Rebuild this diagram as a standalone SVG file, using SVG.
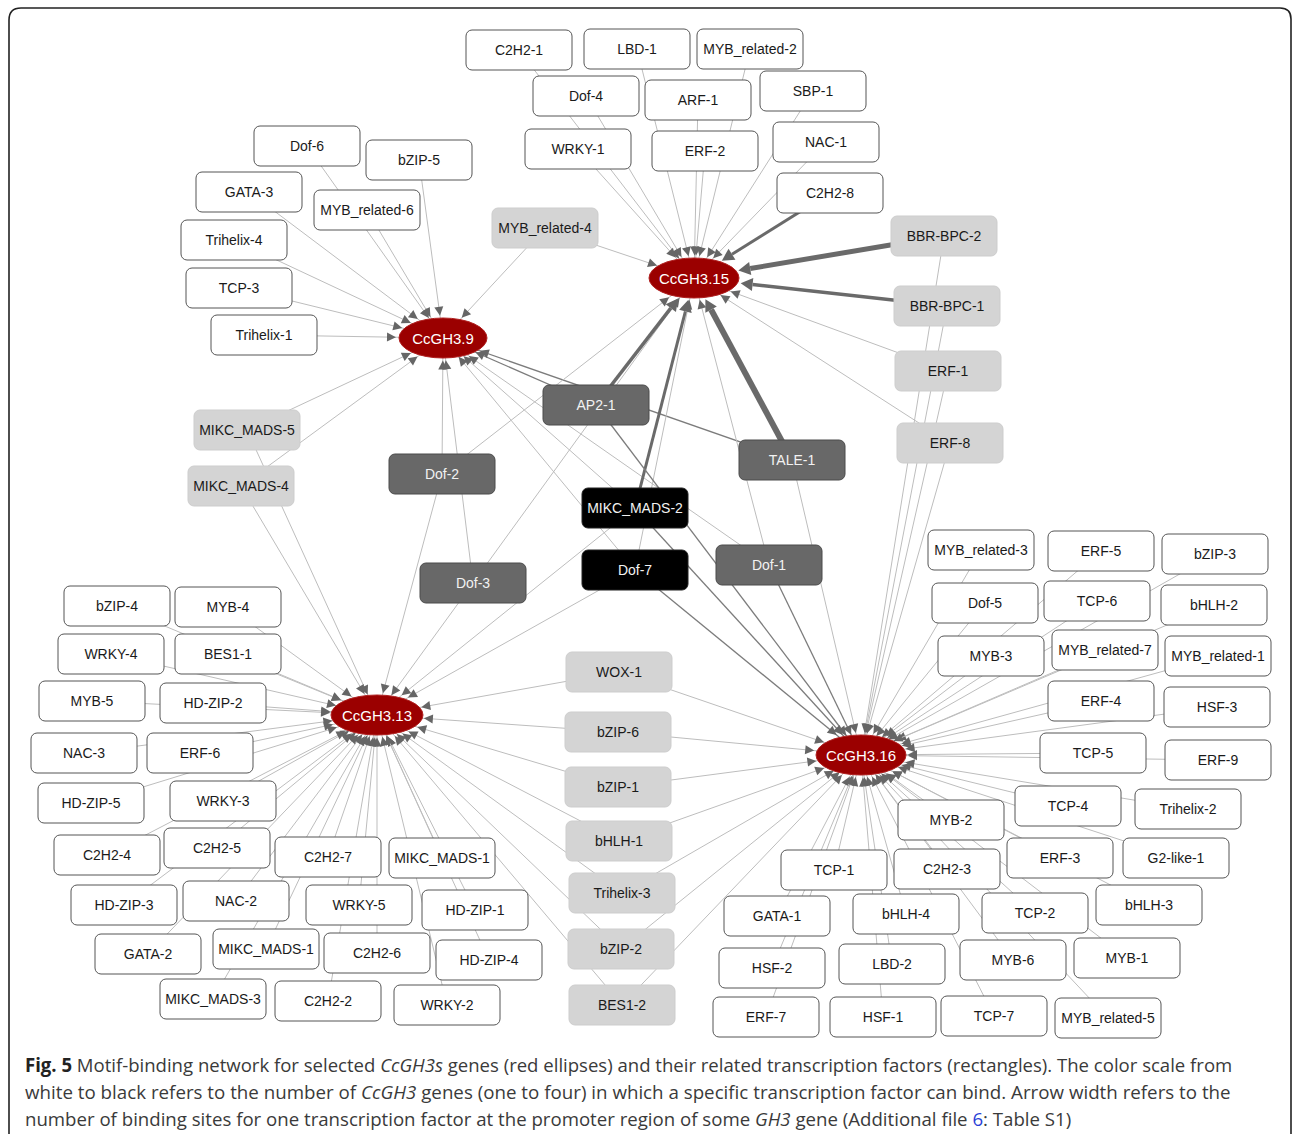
<svg xmlns="http://www.w3.org/2000/svg" width="1292" height="1134" viewBox="0 0 1292 1134">
<style>
.w{fill:#fff;stroke:#555;stroke-width:1}
.l{fill:#d4d4d4;stroke:#cdcdcd;stroke-width:1}
.d{fill:#686868;stroke:#4a4a4a;stroke-width:1}
.b{fill:#000;stroke:#222;stroke-width:1}
.g{fill:#9b0000;stroke:#b02020;stroke-width:1}
text{font-family:"Liberation Sans",Arial,sans-serif;font-size:14px;text-anchor:middle}
.t{fill:#1a1a1a}
.tw{fill:#f2f2f2}
.tg{fill:#fff;font-size:15px}
.e{stroke:#bdbdbd;stroke-width:1;fill:none}
.m{stroke:#7c7c7c;stroke-width:1.3;fill:none}
.k{stroke:#6a6a6a;fill:none;stroke-linecap:butt}
text.cap{font-family:"Open Sans","Noto Sans",sans-serif;font-size:19px;fill:#3a3a3a;text-anchor:start}
</style>
<defs>
<path id="ah" d="M0,0L-9,-4.5L-9,4.5z" fill="#666"/>
<marker id="a21" viewBox="-12 -6 64 12" markerWidth="64" markerHeight="12" markerUnits="userSpaceOnUse" refX="22.5" refY="0" orient="auto" overflow="visible"><use href="#ah"/></marker>
<marker id="a23" viewBox="-12 -6 64 12" markerWidth="64" markerHeight="12" markerUnits="userSpaceOnUse" refX="24.5" refY="0" orient="auto" overflow="visible"><use href="#ah"/></marker>
<marker id="a26" viewBox="-12 -6 64 12" markerWidth="64" markerHeight="12" markerUnits="userSpaceOnUse" refX="27.5" refY="0" orient="auto" overflow="visible"><use href="#ah"/></marker>
<marker id="a30" viewBox="-12 -6 64 12" markerWidth="64" markerHeight="12" markerUnits="userSpaceOnUse" refX="31.5" refY="0" orient="auto" overflow="visible"><use href="#ah"/></marker>
<marker id="a34" viewBox="-12 -6 64 12" markerWidth="64" markerHeight="12" markerUnits="userSpaceOnUse" refX="35.5" refY="0" orient="auto" overflow="visible"><use href="#ah"/></marker>
<marker id="a37" viewBox="-12 -6 64 12" markerWidth="64" markerHeight="12" markerUnits="userSpaceOnUse" refX="39" refY="0" orient="auto" overflow="visible"><use href="#ah"/></marker>
<marker id="a40" viewBox="-12 -6 64 12" markerWidth="64" markerHeight="12" markerUnits="userSpaceOnUse" refX="42" refY="0" orient="auto" overflow="visible"><use href="#ah"/></marker>
<marker id="a43" viewBox="-12 -6 64 12" markerWidth="64" markerHeight="12" markerUnits="userSpaceOnUse" refX="45" refY="0" orient="auto" overflow="visible"><use href="#ah"/></marker>
<marker id="a45" viewBox="-12 -6 64 12" markerWidth="64" markerHeight="12" markerUnits="userSpaceOnUse" refX="47" refY="0" orient="auto" overflow="visible"><use href="#ah"/></marker>
<marker id="tk" viewBox="0 -8 14 16" markerWidth="14" markerHeight="16" markerUnits="userSpaceOnUse" refX="0" refY="0" orient="auto" overflow="visible"><path d="M0,-6.5L12,0L0,6.5z" fill="#666"/></marker>
</defs>
<rect x="0" y="0" width="1292" height="1134" fill="#fff"/>
<path d="M9,1140V20Q9,8 21,8H1280Q1291,8 1291,19V1140" fill="none" stroke="#222" stroke-width="1.6"/>

<g id="connectors">
<!-- to CcGH3.9 -->
<line class="e" x1="307" y1="146" x2="443" y2="338" marker-end="url(#a23)"/>
<line class="e" x1="419" y1="160" x2="443" y2="338" marker-end="url(#a21)"/>
<line class="e" x1="249" y1="192" x2="443" y2="338" marker-end="url(#a30)"/>
<line class="e" x1="367" y1="210" x2="443" y2="338" marker-end="url(#a23)"/>
<line class="e" x1="234" y1="240" x2="443" y2="338" marker-end="url(#a34)"/>
<line class="e" x1="239" y1="288" x2="443" y2="338" marker-end="url(#a40)"/>
<line class="e" x1="264" y1="335" x2="443" y2="338" marker-end="url(#a45)"/>
<line class="e" x1="545" y1="228" x2="443" y2="338" marker-end="url(#a26)"/>
<line class="e" x1="247" y1="430" x2="443" y2="338" marker-end="url(#a34)"/>
<line class="e" x1="241" y1="486" x2="443" y2="338" marker-end="url(#a30)"/>
<line class="m" x1="596" y1="405" x2="443" y2="338" marker-end="url(#a34)"/>
<line class="m" x1="792" y1="460" x2="443" y2="338" marker-end="url(#a37)"/>
<line class="e" x1="442" y1="474" x2="443" y2="338" marker-end="url(#a21)"/>
<line class="e" x1="473" y1="583" x2="443" y2="338" marker-end="url(#a21)"/>
<line class="e" x1="769" y1="565" x2="443" y2="338" marker-end="url(#a30)"/>
<line class="e" x1="635" y1="508" x2="443" y2="338" marker-end="url(#a26)"/>
<line class="e" x1="635" y1="570" x2="443" y2="338" marker-end="url(#a23)"/>
<!-- to CcGH3.15 -->
<line class="e" x1="519" y1="50" x2="694" y2="278" marker-end="url(#a23)"/>
<line class="e" x1="637" y1="49" x2="694" y2="278" marker-end="url(#a21)"/>
<line class="e" x1="750" y1="49" x2="694" y2="278" marker-end="url(#a21)"/>
<line class="e" x1="586" y1="96" x2="694" y2="278" marker-end="url(#a23)"/>
<line class="e" x1="698" y1="100" x2="694" y2="278" marker-end="url(#a21)"/>
<line class="e" x1="813" y1="91" x2="694" y2="278" marker-end="url(#a23)"/>
<line class="e" x1="578" y1="149" x2="694" y2="278" marker-end="url(#a26)"/>
<line class="e" x1="705" y1="151" x2="694" y2="278" marker-end="url(#a21)"/>
<line class="e" x1="826" y1="142" x2="694" y2="278" marker-end="url(#a26)"/>
<line class="e" x1="545" y1="228" x2="694" y2="278" marker-end="url(#a37)"/>
<line class="e" x1="948" y1="371" x2="694" y2="278" marker-end="url(#a37)"/>
<line class="e" x1="950" y1="443" x2="694" y2="278" marker-end="url(#a30)"/>
<line class="e" x1="442" y1="474" x2="694" y2="278" marker-end="url(#a30)"/>
<line class="e" x1="473" y1="583" x2="694" y2="278" marker-end="url(#a23)"/>
<line class="e" x1="769" y1="565" x2="694" y2="278" marker-end="url(#a21)"/>
<line class="e" x1="635" y1="570" x2="694" y2="278" marker-end="url(#a21)"/>
<line class="k" stroke-width="3" x1="830" y1="193" x2="732" y2="254.3" marker-end="url(#tk)"/>
<line class="k" stroke-width="5" x1="944" y1="236" x2="750.2" y2="268.5" marker-end="url(#tk)"/>
<line class="k" stroke-width="3.5" x1="947" y1="306" x2="752.6" y2="284.5" marker-end="url(#tk)"/>
<line class="k" stroke-width="3.5" x1="596" y1="405" x2="670.8" y2="308.1" marker-end="url(#tk)"/>
<line class="k" stroke-width="6" x1="792" y1="460" x2="711.1" y2="309.7" marker-end="url(#tk)"/>
<line class="k" stroke-width="3" x1="635" y1="508" x2="685.4" y2="311.4" marker-end="url(#tk)"/>
<!-- to CcGH3.13 -->
<line class="e" x1="117" y1="606" x2="377" y2="715" marker-end="url(#a37)"/>
<line class="e" x1="228" y1="607" x2="377" y2="715" marker-end="url(#a30)"/>
<line class="e" x1="111" y1="654" x2="377" y2="715" marker-end="url(#a40)"/>
<line class="e" x1="228" y1="654" x2="377" y2="715" marker-end="url(#a37)"/>
<line class="e" x1="92" y1="701" x2="377" y2="715" marker-end="url(#a45)"/>
<line class="e" x1="213" y1="703" x2="377" y2="715" marker-end="url(#a45)"/>
<line class="e" x1="84" y1="753" x2="377" y2="715" marker-end="url(#a43)"/>
<line class="e" x1="200" y1="753" x2="377" y2="715" marker-end="url(#a43)"/>
<line class="e" x1="91" y1="803" x2="377" y2="715" marker-end="url(#a40)"/>
<line class="e" x1="223" y1="801" x2="377" y2="715" marker-end="url(#a30)"/>
<line class="e" x1="107" y1="855" x2="377" y2="715" marker-end="url(#a34)"/>
<line class="e" x1="217" y1="848" x2="377" y2="715" marker-end="url(#a26)"/>
<line class="e" x1="328" y1="857" x2="377" y2="715" marker-end="url(#a21)"/>
<line class="e" x1="442" y1="858" x2="377" y2="715" marker-end="url(#a21)"/>
<line class="e" x1="124" y1="905" x2="377" y2="715" marker-end="url(#a30)"/>
<line class="e" x1="236" y1="901" x2="377" y2="715" marker-end="url(#a23)"/>
<line class="e" x1="359" y1="905" x2="377" y2="715" marker-end="url(#a21)"/>
<line class="e" x1="475" y1="910" x2="377" y2="715" marker-end="url(#a23)"/>
<line class="e" x1="148" y1="954" x2="377" y2="715" marker-end="url(#a26)"/>
<line class="e" x1="266" y1="949" x2="377" y2="715" marker-end="url(#a21)"/>
<line class="e" x1="377" y1="953" x2="377" y2="715" marker-end="url(#a21)"/>
<line class="e" x1="489" y1="960" x2="377" y2="715" marker-end="url(#a21)"/>
<line class="e" x1="213" y1="999" x2="377" y2="715" marker-end="url(#a23)"/>
<line class="e" x1="328" y1="1001" x2="377" y2="715" marker-end="url(#a21)"/>
<line class="e" x1="447" y1="1005" x2="377" y2="715" marker-end="url(#a21)"/>
<line class="e" x1="247" y1="430" x2="377" y2="715" marker-end="url(#a21)"/>
<line class="e" x1="241" y1="486" x2="377" y2="715" marker-end="url(#a23)"/>
<line class="e" x1="442" y1="474" x2="377" y2="715" marker-end="url(#a21)"/>
<line class="e" x1="473" y1="583" x2="377" y2="715" marker-end="url(#a23)"/>
<line class="e" x1="635" y1="508" x2="377" y2="715" marker-end="url(#a30)"/>
<line class="e" x1="635" y1="570" x2="377" y2="715" marker-end="url(#a34)"/>
<line class="e" x1="619" y1="672" x2="377" y2="715" marker-end="url(#a43)"/>
<line class="e" x1="618" y1="732" x2="377" y2="715" marker-end="url(#a45)"/>
<line class="e" x1="618" y1="787" x2="377" y2="715" marker-end="url(#a40)"/>
<line class="e" x1="619" y1="841" x2="377" y2="715" marker-end="url(#a34)"/>
<line class="e" x1="622" y1="893" x2="377" y2="715" marker-end="url(#a30)"/>
<line class="e" x1="621" y1="949" x2="377" y2="715" marker-end="url(#a26)"/>
<line class="e" x1="622" y1="1005" x2="377" y2="715" marker-end="url(#a26)"/>
<!-- to CcGH3.16 -->
<line class="e" x1="981" y1="550" x2="861" y2="755" marker-end="url(#a23)"/>
<line class="e" x1="1101" y1="551" x2="861" y2="755" marker-end="url(#a26)"/>
<line class="e" x1="1215" y1="554" x2="861" y2="755" marker-end="url(#a30)"/>
<line class="e" x1="985" y1="603" x2="861" y2="755" marker-end="url(#a23)"/>
<line class="e" x1="1097" y1="601" x2="861" y2="755" marker-end="url(#a30)"/>
<line class="e" x1="1214" y1="605" x2="861" y2="755" marker-end="url(#a37)"/>
<line class="e" x1="991" y1="656" x2="861" y2="755" marker-end="url(#a30)"/>
<line class="e" x1="1105" y1="650" x2="861" y2="755" marker-end="url(#a34)"/>
<line class="e" x1="1218" y1="656" x2="861" y2="755" marker-end="url(#a40)"/>
<line class="e" x1="1101" y1="701" x2="861" y2="755" marker-end="url(#a40)"/>
<line class="e" x1="1217" y1="707" x2="861" y2="755" marker-end="url(#a43)"/>
<line class="e" x1="1093" y1="753" x2="861" y2="755" marker-end="url(#a45)"/>
<line class="e" x1="1218" y1="760" x2="861" y2="755" marker-end="url(#a45)"/>
<line class="e" x1="1068" y1="806" x2="861" y2="755" marker-end="url(#a40)"/>
<line class="e" x1="1188" y1="809" x2="861" y2="755" marker-end="url(#a43)"/>
<line class="e" x1="951" y1="820" x2="861" y2="755" marker-end="url(#a30)"/>
<line class="e" x1="1060" y1="858" x2="861" y2="755" marker-end="url(#a34)"/>
<line class="e" x1="1176" y1="858" x2="861" y2="755" marker-end="url(#a37)"/>
<line class="e" x1="834" y1="870" x2="861" y2="755" marker-end="url(#a21)"/>
<line class="e" x1="947" y1="869" x2="861" y2="755" marker-end="url(#a23)"/>
<line class="e" x1="1035" y1="913" x2="861" y2="755" marker-end="url(#a26)"/>
<line class="e" x1="1149" y1="905" x2="861" y2="755" marker-end="url(#a34)"/>
<line class="e" x1="777" y1="916" x2="861" y2="755" marker-end="url(#a23)"/>
<line class="e" x1="906" y1="914" x2="861" y2="755" marker-end="url(#a21)"/>
<line class="e" x1="772" y1="968" x2="861" y2="755" marker-end="url(#a21)"/>
<line class="e" x1="892" y1="964" x2="861" y2="755" marker-end="url(#a21)"/>
<line class="e" x1="1013" y1="960" x2="861" y2="755" marker-end="url(#a23)"/>
<line class="e" x1="1127" y1="958" x2="861" y2="755" marker-end="url(#a30)"/>
<line class="e" x1="766" y1="1017" x2="861" y2="755" marker-end="url(#a21)"/>
<line class="e" x1="883" y1="1017" x2="861" y2="755" marker-end="url(#a21)"/>
<line class="e" x1="994" y1="1016" x2="861" y2="755" marker-end="url(#a23)"/>
<line class="e" x1="1108" y1="1018" x2="861" y2="755" marker-end="url(#a26)"/>
<line class="e" x1="619" y1="672" x2="861" y2="755" marker-end="url(#a37)"/>
<line class="e" x1="618" y1="732" x2="861" y2="755" marker-end="url(#a45)"/>
<line class="e" x1="618" y1="787" x2="861" y2="755" marker-end="url(#a43)"/>
<line class="e" x1="619" y1="841" x2="861" y2="755" marker-end="url(#a37)"/>
<line class="e" x1="622" y1="893" x2="861" y2="755" marker-end="url(#a30)"/>
<line class="e" x1="621" y1="949" x2="861" y2="755" marker-end="url(#a26)"/>
<line class="e" x1="622" y1="1005" x2="861" y2="755" marker-end="url(#a26)"/>
<line class="e" x1="944" y1="236" x2="861" y2="755" marker-end="url(#a21)"/>
<line class="e" x1="947" y1="306" x2="861" y2="755" marker-end="url(#a21)"/>
<line class="e" x1="948" y1="371" x2="861" y2="755" marker-end="url(#a21)"/>
<line class="e" x1="950" y1="443" x2="861" y2="755" marker-end="url(#a21)"/>
<line class="m" x1="596" y1="405" x2="861" y2="755" marker-end="url(#a23)"/>
<line class="e" x1="792" y1="460" x2="861" y2="755" marker-end="url(#a21)"/>
<line class="m" x1="769" y1="565" x2="861" y2="755" marker-end="url(#a21)"/>
<line class="m" x1="635" y1="508" x2="861" y2="755" marker-end="url(#a26)"/>
<line class="m" x1="635" y1="570" x2="861" y2="755" marker-end="url(#a30)"/>
</g>

<g id="n_C2H2-1"><rect class="w" x="466" y="30" width="106" height="40" rx="6"/><text class="t" x="519" y="55">C2H2-1</text></g>
<g id="n_LBD-1"><rect class="w" x="584" y="29" width="106" height="40" rx="6"/><text class="t" x="637" y="54">LBD-1</text></g>
<g id="n_MYB_related-2"><rect class="w" x="697" y="29" width="106" height="40" rx="6"/><text class="t" x="750" y="54">MYB_related-2</text></g>
<g id="n_Dof-4"><rect class="w" x="533" y="76" width="106" height="40" rx="6"/><text class="t" x="586" y="101">Dof-4</text></g>
<g id="n_ARF-1"><rect class="w" x="645" y="80" width="106" height="40" rx="6"/><text class="t" x="698" y="105">ARF-1</text></g>
<g id="n_SBP-1"><rect class="w" x="760" y="71" width="106" height="40" rx="6"/><text class="t" x="813" y="96">SBP-1</text></g>
<g id="n_WRKY-1"><rect class="w" x="525" y="129" width="106" height="40" rx="6"/><text class="t" x="578" y="154">WRKY-1</text></g>
<g id="n_ERF-2"><rect class="w" x="652" y="131" width="106" height="40" rx="6"/><text class="t" x="705" y="156">ERF-2</text></g>
<g id="n_NAC-1"><rect class="w" x="773" y="122" width="106" height="40" rx="6"/><text class="t" x="826" y="147">NAC-1</text></g>
<g id="n_C2H2-8"><rect class="w" x="777" y="173" width="106" height="40" rx="6"/><text class="t" x="830" y="198">C2H2-8</text></g>
<g id="n_MYB_related-4"><rect class="l" x="492" y="208" width="106" height="40" rx="6"/><text class="t" x="545" y="233">MYB_related-4</text></g>
<g id="n_BBR-BPC-2"><rect class="l" x="891" y="216" width="106" height="40" rx="6"/><text class="t" x="944" y="241">BBR-BPC-2</text></g>
<g id="n_BBR-BPC-1"><rect class="l" x="894" y="286" width="106" height="40" rx="6"/><text class="t" x="947" y="311">BBR-BPC-1</text></g>
<g id="n_ERF-1"><rect class="l" x="895" y="351" width="106" height="40" rx="6"/><text class="t" x="948" y="376">ERF-1</text></g>
<g id="n_ERF-8"><rect class="l" x="897" y="423" width="106" height="40" rx="6"/><text class="t" x="950" y="448">ERF-8</text></g>
<g id="n_Dof-6"><rect class="w" x="254" y="126" width="106" height="40" rx="6"/><text class="t" x="307" y="151">Dof-6</text></g>
<g id="n_bZIP-5"><rect class="w" x="366" y="140" width="106" height="40" rx="6"/><text class="t" x="419" y="165">bZIP-5</text></g>
<g id="n_GATA-3"><rect class="w" x="196" y="172" width="106" height="40" rx="6"/><text class="t" x="249" y="197">GATA-3</text></g>
<g id="n_MYB_related-6"><rect class="w" x="314" y="190" width="106" height="40" rx="6"/><text class="t" x="367" y="215">MYB_related-6</text></g>
<g id="n_Trihelix-4"><rect class="w" x="181" y="220" width="106" height="40" rx="6"/><text class="t" x="234" y="245">Trihelix-4</text></g>
<g id="n_TCP-3"><rect class="w" x="186" y="268" width="106" height="40" rx="6"/><text class="t" x="239" y="293">TCP-3</text></g>
<g id="n_Trihelix-1"><rect class="w" x="211" y="315" width="106" height="40" rx="6"/><text class="t" x="264" y="340">Trihelix-1</text></g>
<g id="n_MIKC_MADS-5"><rect class="l" x="194" y="410" width="106" height="40" rx="6"/><text class="t" x="247" y="435">MIKC_MADS-5</text></g>
<g id="n_MIKC_MADS-4"><rect class="l" x="188" y="466" width="106" height="40" rx="6"/><text class="t" x="241" y="491">MIKC_MADS-4</text></g>
<g id="n_AP2-1"><rect class="d" x="543" y="385" width="106" height="40" rx="6"/><text class="tw" x="596" y="410">AP2-1</text></g>
<g id="n_TALE-1"><rect class="d" x="739" y="440" width="106" height="40" rx="6"/><text class="tw" x="792" y="465">TALE-1</text></g>
<g id="n_Dof-2"><rect class="d" x="389" y="454" width="106" height="40" rx="6"/><text class="tw" x="442" y="479">Dof-2</text></g>
<g id="n_Dof-3"><rect class="d" x="420" y="563" width="106" height="40" rx="6"/><text class="tw" x="473" y="588">Dof-3</text></g>
<g id="n_Dof-1"><rect class="d" x="716" y="545" width="106" height="40" rx="6"/><text class="tw" x="769" y="570">Dof-1</text></g>
<g id="n_MIKC_MADS-2"><rect class="b" x="582" y="488" width="106" height="40" rx="6"/><text class="tw" x="635" y="513">MIKC_MADS-2</text></g>
<g id="n_Dof-7"><rect class="b" x="582" y="550" width="106" height="40" rx="6"/><text class="tw" x="635" y="575">Dof-7</text></g>
<g id="n_WOX-1"><rect class="l" x="566" y="652" width="106" height="40" rx="6"/><text class="t" x="619" y="677">WOX-1</text></g>
<g id="n_bZIP-6"><rect class="l" x="565" y="712" width="106" height="40" rx="6"/><text class="t" x="618" y="737">bZIP-6</text></g>
<g id="n_bZIP-1"><rect class="l" x="565" y="767" width="106" height="40" rx="6"/><text class="t" x="618" y="792">bZIP-1</text></g>
<g id="n_bHLH-1"><rect class="l" x="566" y="821" width="106" height="40" rx="6"/><text class="t" x="619" y="846">bHLH-1</text></g>
<g id="n_Trihelix-3"><rect class="l" x="569" y="873" width="106" height="40" rx="6"/><text class="t" x="622" y="898">Trihelix-3</text></g>
<g id="n_bZIP-2"><rect class="l" x="568" y="929" width="106" height="40" rx="6"/><text class="t" x="621" y="954">bZIP-2</text></g>
<g id="n_BES1-2"><rect class="l" x="569" y="985" width="106" height="40" rx="6"/><text class="t" x="622" y="1010">BES1-2</text></g>
<g id="n_bZIP-4"><rect class="w" x="64" y="586" width="106" height="40" rx="6"/><text class="t" x="117" y="611">bZIP-4</text></g>
<g id="n_MYB-4"><rect class="w" x="175" y="587" width="106" height="40" rx="6"/><text class="t" x="228" y="612">MYB-4</text></g>
<g id="n_WRKY-4"><rect class="w" x="58" y="634" width="106" height="40" rx="6"/><text class="t" x="111" y="659">WRKY-4</text></g>
<g id="n_BES1-1"><rect class="w" x="175" y="634" width="106" height="40" rx="6"/><text class="t" x="228" y="659">BES1-1</text></g>
<g id="n_MYB-5"><rect class="w" x="39" y="681" width="106" height="40" rx="6"/><text class="t" x="92" y="706">MYB-5</text></g>
<g id="n_HD-ZIP-2"><rect class="w" x="160" y="683" width="106" height="40" rx="6"/><text class="t" x="213" y="708">HD-ZIP-2</text></g>
<g id="n_NAC-3"><rect class="w" x="31" y="733" width="106" height="40" rx="6"/><text class="t" x="84" y="758">NAC-3</text></g>
<g id="n_ERF-6"><rect class="w" x="147" y="733" width="106" height="40" rx="6"/><text class="t" x="200" y="758">ERF-6</text></g>
<g id="n_HD-ZIP-5"><rect class="w" x="38" y="783" width="106" height="40" rx="6"/><text class="t" x="91" y="808">HD-ZIP-5</text></g>
<g id="n_WRKY-3"><rect class="w" x="170" y="781" width="106" height="40" rx="6"/><text class="t" x="223" y="806">WRKY-3</text></g>
<g id="n_C2H2-4"><rect class="w" x="54" y="835" width="106" height="40" rx="6"/><text class="t" x="107" y="860">C2H2-4</text></g>
<g id="n_C2H2-5"><rect class="w" x="164" y="828" width="106" height="40" rx="6"/><text class="t" x="217" y="853">C2H2-5</text></g>
<g id="n_C2H2-7"><rect class="w" x="275" y="837" width="106" height="40" rx="6"/><text class="t" x="328" y="862">C2H2-7</text></g>
<g id="n_MIKC_MADS-1a"><rect class="w" x="389" y="838" width="106" height="40" rx="6"/><text class="t" x="442" y="863">MIKC_MADS-1</text></g>
<g id="n_HD-ZIP-3"><rect class="w" x="71" y="885" width="106" height="40" rx="6"/><text class="t" x="124" y="910">HD-ZIP-3</text></g>
<g id="n_NAC-2"><rect class="w" x="183" y="881" width="106" height="40" rx="6"/><text class="t" x="236" y="906">NAC-2</text></g>
<g id="n_WRKY-5"><rect class="w" x="306" y="885" width="106" height="40" rx="6"/><text class="t" x="359" y="910">WRKY-5</text></g>
<g id="n_HD-ZIP-1"><rect class="w" x="422" y="890" width="106" height="40" rx="6"/><text class="t" x="475" y="915">HD-ZIP-1</text></g>
<g id="n_GATA-2"><rect class="w" x="95" y="934" width="106" height="40" rx="6"/><text class="t" x="148" y="959">GATA-2</text></g>
<g id="n_MIKC_MADS-1b"><rect class="w" x="213" y="929" width="106" height="40" rx="6"/><text class="t" x="266" y="954">MIKC_MADS-1</text></g>
<g id="n_C2H2-6"><rect class="w" x="324" y="933" width="106" height="40" rx="6"/><text class="t" x="377" y="958">C2H2-6</text></g>
<g id="n_HD-ZIP-4"><rect class="w" x="436" y="940" width="106" height="40" rx="6"/><text class="t" x="489" y="965">HD-ZIP-4</text></g>
<g id="n_MIKC_MADS-3"><rect class="w" x="160" y="979" width="106" height="40" rx="6"/><text class="t" x="213" y="1004">MIKC_MADS-3</text></g>
<g id="n_C2H2-2"><rect class="w" x="275" y="981" width="106" height="40" rx="6"/><text class="t" x="328" y="1006">C2H2-2</text></g>
<g id="n_WRKY-2"><rect class="w" x="394" y="985" width="106" height="40" rx="6"/><text class="t" x="447" y="1010">WRKY-2</text></g>
<g id="n_MYB_related-3"><rect class="w" x="928" y="530" width="106" height="40" rx="6"/><text class="t" x="981" y="555">MYB_related-3</text></g>
<g id="n_ERF-5"><rect class="w" x="1048" y="531" width="106" height="40" rx="6"/><text class="t" x="1101" y="556">ERF-5</text></g>
<g id="n_bZIP-3"><rect class="w" x="1162" y="534" width="106" height="40" rx="6"/><text class="t" x="1215" y="559">bZIP-3</text></g>
<g id="n_Dof-5"><rect class="w" x="932" y="583" width="106" height="40" rx="6"/><text class="t" x="985" y="608">Dof-5</text></g>
<g id="n_TCP-6"><rect class="w" x="1044" y="581" width="106" height="40" rx="6"/><text class="t" x="1097" y="606">TCP-6</text></g>
<g id="n_bHLH-2"><rect class="w" x="1161" y="585" width="106" height="40" rx="6"/><text class="t" x="1214" y="610">bHLH-2</text></g>
<g id="n_MYB-3"><rect class="w" x="938" y="636" width="106" height="40" rx="6"/><text class="t" x="991" y="661">MYB-3</text></g>
<g id="n_MYB_related-7"><rect class="w" x="1052" y="630" width="106" height="40" rx="6"/><text class="t" x="1105" y="655">MYB_related-7</text></g>
<g id="n_MYB_related-1"><rect class="w" x="1165" y="636" width="106" height="40" rx="6"/><text class="t" x="1218" y="661">MYB_related-1</text></g>
<g id="n_ERF-4"><rect class="w" x="1048" y="681" width="106" height="40" rx="6"/><text class="t" x="1101" y="706">ERF-4</text></g>
<g id="n_HSF-3"><rect class="w" x="1164" y="687" width="106" height="40" rx="6"/><text class="t" x="1217" y="712">HSF-3</text></g>
<g id="n_TCP-5"><rect class="w" x="1040" y="733" width="106" height="40" rx="6"/><text class="t" x="1093" y="758">TCP-5</text></g>
<g id="n_ERF-9"><rect class="w" x="1165" y="740" width="106" height="40" rx="6"/><text class="t" x="1218" y="765">ERF-9</text></g>
<g id="n_TCP-4"><rect class="w" x="1015" y="786" width="106" height="40" rx="6"/><text class="t" x="1068" y="811">TCP-4</text></g>
<g id="n_Trihelix-2"><rect class="w" x="1135" y="789" width="106" height="40" rx="6"/><text class="t" x="1188" y="814">Trihelix-2</text></g>
<g id="n_MYB-2"><rect class="w" x="898" y="800" width="106" height="40" rx="6"/><text class="t" x="951" y="825">MYB-2</text></g>
<g id="n_ERF-3"><rect class="w" x="1007" y="838" width="106" height="40" rx="6"/><text class="t" x="1060" y="863">ERF-3</text></g>
<g id="n_G2-like-1"><rect class="w" x="1123" y="838" width="106" height="40" rx="6"/><text class="t" x="1176" y="863">G2-like-1</text></g>
<g id="n_TCP-1"><rect class="w" x="781" y="850" width="106" height="40" rx="6"/><text class="t" x="834" y="875">TCP-1</text></g>
<g id="n_C2H2-3"><rect class="w" x="894" y="849" width="106" height="40" rx="6"/><text class="t" x="947" y="874">C2H2-3</text></g>
<g id="n_TCP-2"><rect class="w" x="982" y="893" width="106" height="40" rx="6"/><text class="t" x="1035" y="918">TCP-2</text></g>
<g id="n_bHLH-3"><rect class="w" x="1096" y="885" width="106" height="40" rx="6"/><text class="t" x="1149" y="910">bHLH-3</text></g>
<g id="n_GATA-1"><rect class="w" x="724" y="896" width="106" height="40" rx="6"/><text class="t" x="777" y="921">GATA-1</text></g>
<g id="n_bHLH-4"><rect class="w" x="853" y="894" width="106" height="40" rx="6"/><text class="t" x="906" y="919">bHLH-4</text></g>
<g id="n_HSF-2"><rect class="w" x="719" y="948" width="106" height="40" rx="6"/><text class="t" x="772" y="973">HSF-2</text></g>
<g id="n_LBD-2"><rect class="w" x="839" y="944" width="106" height="40" rx="6"/><text class="t" x="892" y="969">LBD-2</text></g>
<g id="n_MYB-6"><rect class="w" x="960" y="940" width="106" height="40" rx="6"/><text class="t" x="1013" y="965">MYB-6</text></g>
<g id="n_MYB-1"><rect class="w" x="1074" y="938" width="106" height="40" rx="6"/><text class="t" x="1127" y="963">MYB-1</text></g>
<g id="n_ERF-7"><rect class="w" x="713" y="997" width="106" height="40" rx="6"/><text class="t" x="766" y="1022">ERF-7</text></g>
<g id="n_HSF-1"><rect class="w" x="830" y="997" width="106" height="40" rx="6"/><text class="t" x="883" y="1022">HSF-1</text></g>
<g id="n_TCP-7"><rect class="w" x="941" y="996" width="106" height="40" rx="6"/><text class="t" x="994" y="1021">TCP-7</text></g>
<g id="n_MYB_related-5"><rect class="w" x="1055" y="998" width="106" height="40" rx="6"/><text class="t" x="1108" y="1023">MYB_related-5</text></g>

<g id="n_CcGH3.9"><ellipse class="g" cx="443" cy="338" rx="44" ry="20"/><text class="tg" x="443" y="343.5">CcGH3.9</text></g>
<g id="n_CcGH3.15"><ellipse class="g" cx="694" cy="278" rx="45" ry="20"/><text class="tg" x="694" y="283.5">CcGH3.15</text></g>
<g id="n_CcGH3.13"><ellipse class="g" cx="377" cy="715" rx="46" ry="20"/><text class="tg" x="377" y="720.5">CcGH3.13</text></g>
<g id="n_CcGH3.16"><ellipse class="g" cx="861" cy="755" rx="45" ry="20"/><text class="tg" x="861" y="760.5">CcGH3.16</text></g>

<g id="caption">
<text class="cap" transform="translate(25,1072) scale(0.977,1)"><tspan font-weight="bold" fill="#222">Fig. 5</tspan> Motif-binding network for selected <tspan font-style="italic">CcGH3s</tspan> genes (red ellipses) and their related transcription factors (rectangles). The color scale from</text>
<text class="cap" transform="translate(25,1099) scale(0.987,1)">white to black refers to the number of <tspan font-style="italic">CcGH3</tspan> genes (one to four) in which a specific transcription factor can bind. Arrow width refers to the</text>
<text class="cap" transform="translate(25,1126) scale(0.981,1)">number of binding sites for one transcription factor at the promoter region of some <tspan font-style="italic">GH3</tspan> gene (Additional file <tspan fill="#2a3fd6">6</tspan>: Table S1)</text>
</g>
</svg>
